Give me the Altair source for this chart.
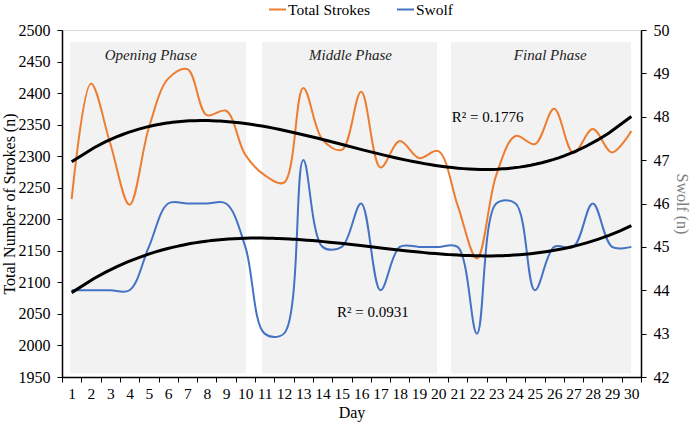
import altair as alt
import pandas as pd

# Daily training data
days = list(range(1, 31))
total_strokes = [2232, 2415, 2320, 2223, 2345, 2423, 2438, 2365, 2372, 2302,
                 2270, 2258, 2408, 2326, 2310, 2402, 2282, 2324, 2297, 2308,
                 2222, 2138, 2270, 2332, 2319, 2375, 2305, 2343, 2306, 2340]
swolf = [44, 44, 44, 44, 45, 46, 46, 46, 46, 45,
         43, 43, 47, 45, 45, 46, 44, 45, 45, 45,
         45, 43, 46, 46, 44, 45, 45, 46, 45, 45]

# Training phases (shaded bands) and their captions
phase_names = ["Opening Phase", "Middle Phase", "Final Phase"]
phase_start = [0.92, 10.86, 20.66]
phase_end = [10.04, 19.93, 29.98]
phase_label_day = [5.1, 15.45, 25.8]

# Goodness-of-fit notes for the cubic trend lines
r2_text = ["R² = 0.1776", "R² = 0.0931"]
r2_day = [20.7, 14.75]
r2_strokes = [2362, 2053]

ORANGE = "#ED7D31"
BLUE = "#4472C4"
FONT = "Liberation Serif"
W, H = 579, 347

strokes_df = pd.DataFrame({"day": days, "value": total_strokes, "series": "Total Strokes"})
swolf_df = pd.DataFrame({"day": days, "value": swolf, "series": "Swolf"})
phases_df = pd.DataFrame({"name": phase_names, "start": phase_start, "end": phase_end,
                          "label_day": phase_label_day, "top": 2481, "bottom": 1956,
                          "label_y": 2460})
r2_df = pd.DataFrame({"text": r2_text, "day": r2_day, "y": r2_strokes})

x_scale = alt.Scale(domain=[0.5, 30.5], nice=False, zero=False)
x_axis = alt.Axis(
    values=[0.5 + i for i in range(31)],
    labelExpr="datum.value < 1 ? '' : format(datum.value - 0.5, 'd')",
    labelOffset=-W / 60,
    labelFlush=False, labelOverlap=False,
    tickSize=5, tickColor="black", domainColor="black", domainWidth=1.5,
    labelFont=FONT, labelFontSize=15.5, labelColor="black", labelPadding=4,
    title="Day", titleFont=FONT, titleFontSize=16, titleFontWeight="normal",
    titleColor="black", titlePadding=3, grid=False,
)
left_scale = alt.Scale(domain=[1950, 2500], nice=False, zero=False)
left_axis = alt.Axis(
    values=list(range(1950, 2501, 50)), format="d", tickSize=5, tickColor="black",
    domainColor="black", domainWidth=1.5, labelFont=FONT, labelFontSize=16,
    labelColor="black", labelPadding=7, labelFlush=False,
    title="Total Number of Strokes (n)",
    titleFont=FONT, titleFontSize=16, titleFontWeight="normal", titleColor="black",
    titlePadding=1, grid=False,
)
right_scale = alt.Scale(domain=[42, 50], nice=False, zero=False)
right_axis = alt.Axis(
    orient="right", values=list(range(42, 51)), format="d", tickSize=5,
    tickColor="black", domainColor="black", domainWidth=1.5, labelFont=FONT,
    labelFontSize=16, labelColor="black", labelPadding=7, labelFlush=False,
    title="Swolf (n)", titleFont=FONT,
    titleFontSize=16, titleFontWeight="normal", titleColor="#7f7f7f",
    titlePadding=4, grid=False,
)
color = alt.Color(
    "series:N",
    scale=alt.Scale(domain=["Total Strokes", "Swolf"], range=[ORANGE, BLUE]),
    legend=alt.Legend(
        orient="none", legendX=206, legendY=-30, direction="horizontal",
        title=None, symbolType="stroke", symbolStrokeWidth=2, symbolSize=289,
        labelFont=FONT, labelFontSize=15.5, labelColor="black", labelOffset=1,
        columnPadding=22, padding=0,
    ),
)


def xq(field):
    return alt.X(field, scale=x_scale, axis=x_axis)


def yl(field):
    return alt.Y(field, scale=left_scale, axis=left_axis)


def yr(field):
    return alt.Y(field, scale=right_scale, axis=right_axis)


bands = alt.Chart(phases_df).mark_rect(color="#f2f2f2").encode(
    x=xq("start:Q"), x2="end:Q", y=yl("top:Q"), y2="bottom:Q",
)
band_labels = alt.Chart(phases_df).mark_text(
    font=FONT, fontSize=15, fontStyle="italic", color="#222222"
).encode(x=xq("label_day:Q"), y=yl("label_y:Q"), text="name:N")

strokes_line = alt.Chart(strokes_df).mark_line(
    interpolate="catmull-rom", strokeWidth=2
).encode(x=xq("day:Q"), y=yl("value:Q"), color=color)
strokes_trend = alt.Chart(strokes_df).transform_regression(
    "day", "value", method="poly", order=3
).mark_line(color="black", strokeWidth=3).encode(x=xq("day:Q"), y=yl("value:Q"))
r2_labels = alt.Chart(r2_df).mark_text(
    font=FONT, fontSize=15, align="left", color="black"
).encode(x=xq("day:Q"), y=yl("y:Q"), text="text:N")

left = alt.layer(bands, band_labels, strokes_line, strokes_trend, r2_labels)

swolf_line = alt.Chart(swolf_df).mark_line(
    interpolate="catmull-rom", strokeWidth=2
).encode(x=xq("day:Q"), y=yr("value:Q"), color=color)
swolf_trend = alt.Chart(swolf_df).transform_regression(
    "day", "value", method="poly", order=3
).mark_line(color="black", strokeWidth=3).encode(x=xq("day:Q"), y=yr("value:Q"))
right = alt.layer(swolf_line, swolf_trend)

chart = alt.layer(left, right).resolve_scale(y="independent").properties(
    width=W, height=H,
    autosize=alt.AutoSizeParams(type="none"),
    padding={"left": 62, "top": 30, "right": 49, "bottom": 49},
    background="white",
).configure_view(stroke="#d9d9d9")

chart.save("out.html", embed_options={"renderer": "svg", "actions": False})
